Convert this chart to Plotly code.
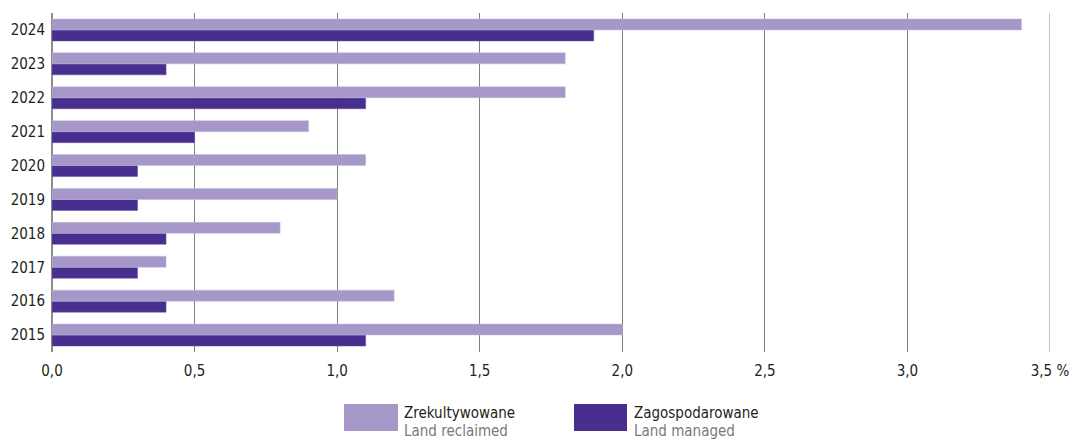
import plotly.graph_objects as go

years = ["2015", "2016", "2017", "2018", "2019", "2020", "2021", "2022", "2023", "2024"]
reclaimed = [2.0, 1.2, 0.4, 0.8, 1.0, 1.1, 0.9, 1.8, 1.8, 3.4]
managed = [1.1, 0.4, 0.3, 0.4, 0.3, 0.3, 0.5, 1.1, 0.4, 1.9]
tick_vals = [0, 0.5, 1.0, 1.5, 2.0, 2.5, 3.0, 3.5]
tick_text = ["0,0", "0,5", "1,0", "1,5", "2,0", "2,5", "3,0", "3,5 %"]

LIGHT = "#a597c8"
DARK = "#482f8f"
FONT = "DejaVu Sans Condensed, Liberation Sans Narrow, sans-serif"

fig = go.Figure()
fig.add_trace(go.Bar(
    y=years, x=managed, orientation="h", name="Zagospodarowane",
    marker=dict(color=DARK, line=dict(color="#6a57a8", width=0.5)),
))
fig.add_trace(go.Bar(
    y=years, x=reclaimed, orientation="h", name="Zrekultywowane",
    marker=dict(color=LIGHT, line=dict(color="#c4bade", width=0.5)),
))

L, R, T, B = 52, 30, 13, 89
PW = 1080 - L - R
PH = 441 - T - B

fig.update_layout(
    width=1080, height=441,
    margin=dict(l=L, r=R, t=T, b=B),
    paper_bgcolor="white", plot_bgcolor="white",
    barmode="group", bargap=0.35, bargroupgap=0,
    showlegend=False,
    font=dict(family=FONT, size=15, color="#231f20"),
    xaxis=dict(
        range=[0, 3.5], tickvals=tick_vals, ticktext=tick_text,
        showgrid=True, gridcolor="#7f7f7f", gridwidth=1,
        zeroline=True, zerolinecolor="#8c8c8c", zerolinewidth=1.5,
        showline=False, ticks="", ticklen=0, automargin=False,
        ticklabelstandoff=8,
        tickfont=dict(family=FONT, size=15, color="#231f20"),
    ),
    yaxis=dict(
        type="category", categoryorder="array", categoryarray=years,
        showgrid=False, zeroline=False, showline=False, ticks="",
        ticklabelstandoff=6, automargin=False,
        tickfont=dict(family=FONT, size=15, color="#231f20"),
    ),
)

# lighter right edge line at 3.5
fig.add_shape(type="line", xref="x", yref="paper", x0=3.5, x1=3.5, y0=0, y1=1,
              line=dict(color="#b3b3b3", width=1.5), layer="below")

def px_x(p):
    return (p - L) / PW

def px_y(p):
    return (441 - B - p) / PH

# custom legend
fig.add_shape(type="rect", xref="paper", yref="paper",
              x0=px_x(344), x1=px_x(398), y0=px_y(431), y1=px_y(404),
              fillcolor=LIGHT, line=dict(width=0))
fig.add_shape(type="rect", xref="paper", yref="paper",
              x0=px_x(574), x1=px_x(627), y0=px_y(431), y1=px_y(404),
              fillcolor=DARK, line=dict(width=0))

def legend_text(xpx, line1, line2):
    fig.add_annotation(xref="paper", yref="paper", x=px_x(xpx),
                       y=px_y(413), text=line1, showarrow=False,
                       xanchor="left", yanchor="middle",
                       font=dict(family=FONT, size=15, color="#231f20"))
    fig.add_annotation(xref="paper", yref="paper", x=px_x(xpx),
                       y=px_y(431), text=line2, showarrow=False,
                       xanchor="left", yanchor="middle",
                       font=dict(family=FONT, size=15, color="#7a7a7a"))

legend_text(402, "Zrekultywowane", "Land reclaimed")
legend_text(632, "Zagospodarowane", "Land managed")

fig.write_html(
    "out.html",
    config={"displayModeBar": False},
    post_script="document.body.style.margin='0';document.body.style.overflow='hidden';",
)
